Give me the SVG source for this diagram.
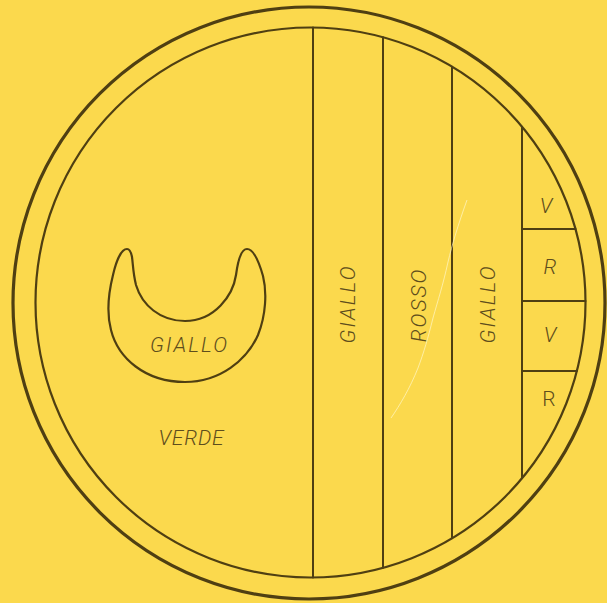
<svg xmlns="http://www.w3.org/2000/svg" width="607" height="603" viewBox="0 0 607 603">
<style>
.ln{fill:none;stroke:#4f3f12;stroke-linecap:round;stroke-linejoin:round}
.t{font-family:Roboto,"Liberation Sans",Arial,sans-serif;font-weight:300;font-size:21px;fill:#5e4d1c;text-anchor:middle}
.i{font-style:italic}
.w{letter-spacing:2px}
</style>
<rect width="607" height="603" fill="#fbd94d"/>
<g id="rims">
<circle class="ln" cx="309" cy="303" r="296" stroke-width="3.2"/>
<circle class="ln" cx="310.5" cy="302.5" r="275" stroke-width="2.2"/>
</g>
<g id="stripes" class="ln" stroke-width="2">
<line x1="313" y1="27.5" x2="313" y2="577.5"/>
<line x1="383" y1="37.2" x2="383" y2="567.8"/>
<line x1="452" y1="66.7" x2="452" y2="538.3"/>
<line x1="522" y1="126.7" x2="522" y2="478.3"/>
<line x1="522" y1="229" x2="575.5" y2="229"/>
<line x1="522" y1="301" x2="585.5" y2="301"/>
<line x1="522" y1="371" x2="576.8" y2="371"/>
</g>
<path d="M467,200 C458,225 452,245 448,262 C443,285 438,300 433,318 C428,338 424,352 418,368 C410,388 400,405 391,418" fill="none" stroke="#fff6c8" stroke-width="1" opacity="0.7"/>
<g id="crescent">
<path class="ln" stroke-width="2.2" d="M127,249 C121,249 116,262 113,275 C108,295 107,315 111,330 C118,358 145,382 185,382 C220,382 247,360 258,335 C266,315 267,292 263,276 C259,262 254,249 247,249 C241,249 238,260 236,275 C233,295 215,321 185,321 C160,321 142,305 136,285 C133,273 133,264 132,257 C131,252 130,249 127,249 Z"/>
<text class="t i w" x="189.5" y="352">GIALLO</text>
</g>
<g id="field">
<text class="t i" x="191.5" y="445" letter-spacing="0.8">VERDE</text>
</g>
<g id="band1"><text class="t i w" transform="translate(355,304) rotate(-90)" x="0" y="0">GIALLO</text></g>
<g id="band2"><text class="t i w" transform="translate(426,305) rotate(-90)" x="0" y="0">ROSSO</text></g>
<g id="band3"><text class="t i w" transform="translate(495,304) rotate(-90)" x="0" y="0">GIALLO</text></g>
<g id="cells">
<text class="t i" x="546" y="213">V</text>
<text class="t i" x="550" y="274">R</text>
<text class="t i" x="550" y="342">V</text>
<text class="t" x="549" y="406">R</text>
</g>
</svg>
